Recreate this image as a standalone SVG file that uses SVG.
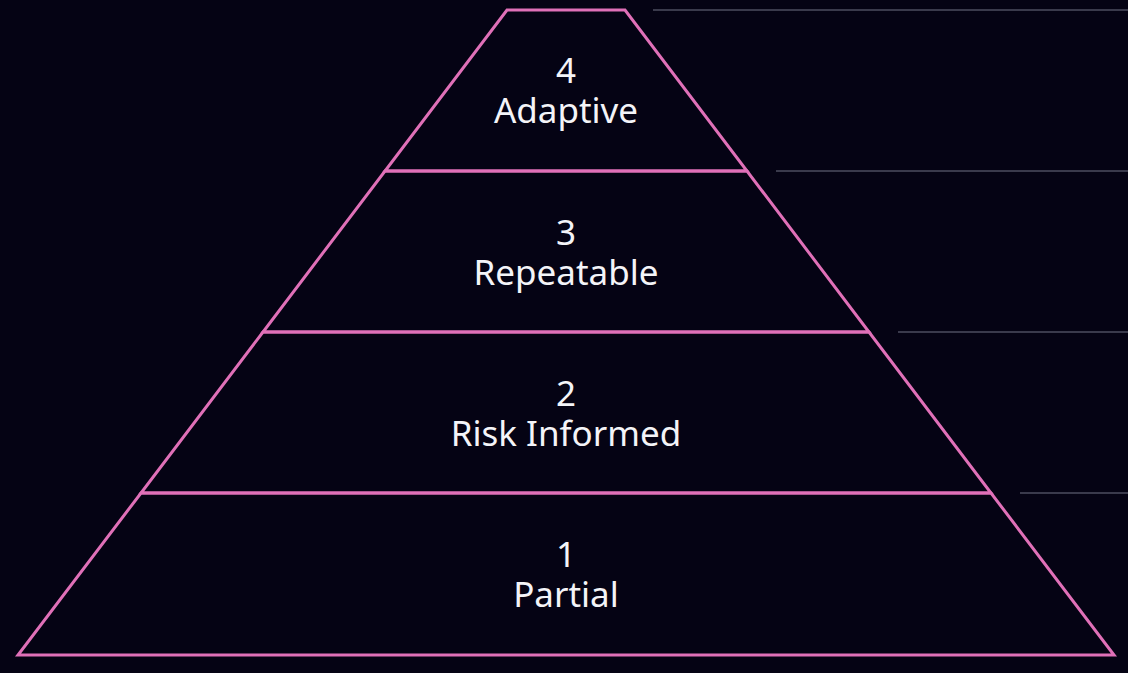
<svg xmlns="http://www.w3.org/2000/svg" width="1128" height="673" viewBox="0 0 1128 673">
<style>
.bg{fill:#050314}
.tier{fill:none;stroke:#e070b8;stroke-width:3;stroke-linejoin:miter}
.guide{stroke:#3a3a4c;stroke-width:2}
.t{font-family:"Noto Sans","DejaVu Sans",sans-serif;font-size:35px;fill:#f4f4f8;text-anchor:middle}
</style>
<rect class="bg" x="0" y="0" width="1128" height="673"/>
<g id="guides">
<line class="guide" x1="653" y1="10" x2="1128" y2="10"/>
<line class="guide" x1="776" y1="171" x2="1128" y2="171"/>
<line class="guide" x1="898" y1="332" x2="1128" y2="332"/>
<line class="guide" x1="1020" y1="493" x2="1128" y2="493"/>
</g>
<g id="tier4">
<polygon class="tier" points="507,10 625,10 747,171 385,171"/>
<text class="t" x="566" y="83">4<tspan x="566" dy="40">Adaptive</tspan></text>
</g>
<g id="tier3">
<polygon class="tier" points="385,171 747,171 869,332 263,332"/>
<text class="t" x="566" y="245">3<tspan x="566" dy="40">Repeatable</tspan></text>
</g>
<g id="tier2">
<polygon class="tier" points="263,332 869,332 991,493 141,493"/>
<text class="t" x="566" y="406">2<tspan x="566" dy="40">Risk Informed</tspan></text>
</g>
<g id="tier1">
<polygon class="tier" points="141,493 991,493 1114,655 18,655"/>
<text class="t" x="566" y="567">1<tspan x="566" dy="40">Partial</tspan></text>
</g>
</svg>
